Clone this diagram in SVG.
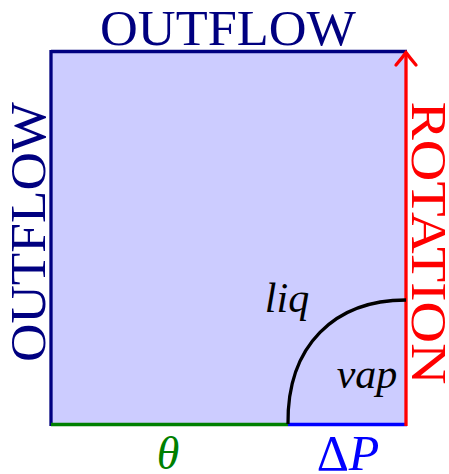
<svg xmlns="http://www.w3.org/2000/svg" width="449" height="474" viewBox="0 0 449 474">
<style>
.lbl{font-family:"Liberation Serif","DejaVu Serif",serif}
.it{font-style:italic}
.edge{fill:none;stroke-width:3.3}
</style>
<rect width="449" height="474" fill="#ffffff"/>
<g id="region">
<rect x="51" y="52" width="355" height="372.5" fill="#ccccff"/>
</g>
<g id="connectors">
<line class="edge" x1="51" y1="51.5" x2="407" y2="51.5" stroke="#000080"/>
<line class="edge" x1="51" y1="50" x2="51" y2="426" stroke="#000080"/>
<line class="edge" x1="51" y1="424.5" x2="288" y2="424.5" stroke="#008000"/>
<line class="edge" x1="288" y1="424.5" x2="407" y2="424.5" stroke="#0000ff"/>
<line class="edge" x1="406" y1="426" x2="406" y2="53" stroke="#ff0000"/>
<path class="edge" d="M396,65 Q402,58 406,52.5 Q410,58 416,65" stroke="#ff0000" stroke-width="2.6" stroke-linecap="round"/>
<path class="edge" d="M288,424 C287,345 335,300 406,300" stroke="#000000"/>
</g>
<g id="labels">
<text class="lbl" x="228" y="45" font-size="51" fill="#000080" text-anchor="middle" textLength="256" lengthAdjust="spacingAndGlyphs">OUTFLOW</text>
<text class="lbl" transform="translate(45,232) rotate(-90)" font-size="51" fill="#000080" text-anchor="middle" textLength="260" lengthAdjust="spacingAndGlyphs">OUTFLOW</text>
<text class="lbl" transform="translate(412,243) rotate(90)" font-size="50" fill="#ff0000" text-anchor="middle" textLength="283" lengthAdjust="spacingAndGlyphs">ROTATION</text>
<text class="lbl it" x="287" y="312" font-size="42" fill="#000000" text-anchor="middle">liq</text>
<text class="lbl it" x="367" y="388" font-size="42" fill="#000000" text-anchor="middle">vap</text>
<text class="lbl it" x="168" y="469" font-size="46" fill="#008000" text-anchor="middle">θ</text>
<text class="lbl" x="348" y="470" font-size="50" fill="#0000ff" text-anchor="middle">Δ<tspan class="it">P</tspan></text>
</g>
</svg>
